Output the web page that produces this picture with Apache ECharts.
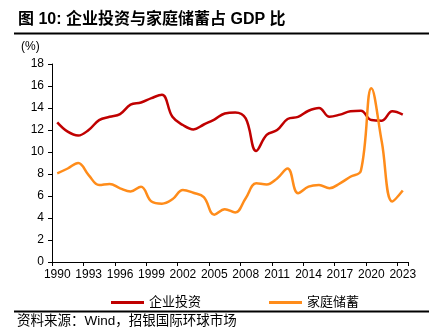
<!DOCTYPE html>
<html>
<head>
<meta charset="utf-8">
<script src="https://cdn.jsdelivr.net/npm/echarts@6/dist/echarts.min.js"></script>
<style>
html,body{margin:0;padding:0;background:#fff;}
#main{width:436px;height:333px;}
</style>
</head>
<body>
<div id="main"></div>
<script>
const years = [];
for (let y = 1990; y <= 2023; y++) years.push(String(y));
const corpInvest = [12.7, 11.85, 11.5, 12.0, 12.9, 13.2, 13.45, 14.3, 14.5, 14.9, 15.2, 13.2, 12.45, 12.05, 12.5, 12.95, 13.5, 13.6, 13.05, 10.1, 11.55, 12.0, 13.0, 13.2, 13.75, 14.0, 13.2, 13.4, 13.7, 13.75, 12.9, 12.85, 13.7, 13.4];
const houseSaving = [8.06, 8.5, 9.0, 7.9, 7.0, 7.1, 6.7, 6.4, 6.85, 5.5, 5.3, 5.7, 6.55, 6.3, 5.9, 4.3, 4.8, 4.5, 5.8, 7.15, 7.05, 7.6, 8.5, 6.25, 6.85, 7.0, 6.7, 7.15, 7.75, 8.3, 15.8, 10.9, 5.5, 6.5];
const seriesNames = ['企业投资', '家庭储蓄'];
const yTicks = { min: 0, max: 18, interval: 2 };

const cjk = '"Liberation Sans", Arial, "Noto Sans CJK SC", sans-serif';
const chart = echarts.init(document.getElementById('main'), null, { renderer: 'canvas' });
chart.setOption({
  animation: false,
  backgroundColor: '#fff',
  textStyle: { fontFamily: cjk },
  title: {
    text: '图 10: 企业投资与家庭储蓄占 GDP 比',
    left: 13, top: 7,
    textStyle: { fontSize: 16, fontWeight: 'bold', color: '#000', fontFamily: cjk }
  },
  graphic: [
    { type: 'line', shape: { x1: 14, y1: 33.5, x2: 429, y2: 33.5 }, style: { stroke: '#000', lineWidth: 2 } },
    { type: 'line', shape: { x1: 14, y1: 311.5, x2: 429, y2: 311.5 }, style: { stroke: '#000', lineWidth: 2 } },
    { type: 'text', left: 17, top: 315, style: { text: '资料来源：Wind，招银国际环球市场', fontSize: 13.5, fill: '#000', fontFamily: cjk } },
    { type: 'text', left: 21, top: 41, style: { text: '(%)', fontSize: 12, fill: '#000', fontFamily: cjk } }
  ],
  legend: {
    data: seriesNames,
    left: 106, top: 291,
    itemWidth: 33, itemHeight: 3, icon: 'rect', itemGap: 68,
    textStyle: { fontSize: 13, color: '#000', fontFamily: cjk }
  },
  grid: { left: 52, right: 28, top: 64, bottom: 71, containLabel: false },
  xAxis: {
    type: 'category',
    data: years,
    boundaryGap: true,
    axisLine: { lineStyle: { color: '#000', width: 1 } },
    axisTick: { show: true, interval: 2, length: 4, lineStyle: { color: '#000' } },
    axisLabel: { interval: 2, color: '#000', fontSize: 12, margin: 7, fontFamily: cjk },
    splitLine: { show: false }
  },
  yAxis: {
    type: 'value',
    min: yTicks.min, max: yTicks.max, interval: yTicks.interval,
    axisLine: { show: true, lineStyle: { color: '#000', width: 1 } },
    axisTick: { show: true, length: 4, lineStyle: { color: '#000' } },
    axisLabel: { color: '#000', fontSize: 12, margin: 8, fontFamily: cjk },
    splitLine: { show: false }
  },
  series: [
    { name: seriesNames[0], type: 'line', data: corpInvest, smooth: 0.4, showSymbol: false, symbol: 'none',
      lineStyle: { color: '#C00000', width: 2.5 }, itemStyle: { color: '#C00000' } },
    { name: seriesNames[1], type: 'line', data: houseSaving, smooth: 0.4, showSymbol: false, symbol: 'none',
      lineStyle: { color: '#FF8C1A', width: 2.5 }, itemStyle: { color: '#FF8C1A' } }
  ]
});
</script>
</body>
</html>
